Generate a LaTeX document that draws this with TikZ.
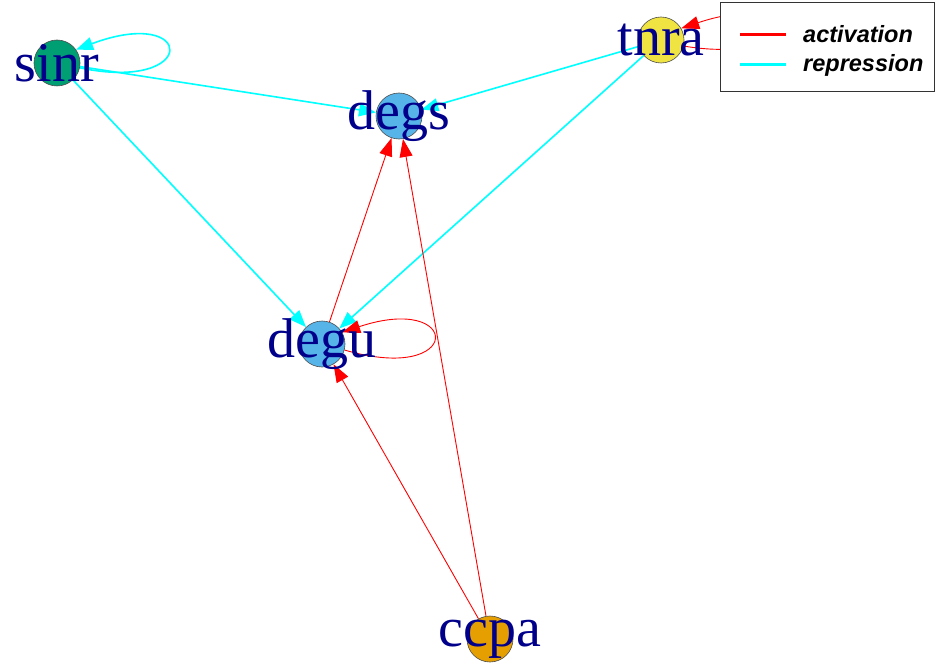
\documentclass[tikz,border=0pt]{standalone}
\usepackage{fontspec}
\setmainfont{Liberation Serif}
\newfontfamily\legendfont{Liberation Sans}
\usepackage{tikz}
\usetikzlibrary{arrows.meta}
\pgfdeclarelayer{background}
\pgfsetlayers{background,main}
\definecolor{sinrcol}{HTML}{009E73}
\definecolor{tnracol}{HTML}{F0E442}
\definecolor{degcol}{HTML}{56B4E9}
\definecolor{ccpacol}{HTML}{E69F00}
\definecolor{labcol}{HTML}{00008B}
\definecolor{actcol}{RGB}{255,0,0}
\definecolor{repcol}{RGB}{0,255,255}

\begin{document}
\begin{tikzpicture}[x=1pt,y=-1pt,
    vtx/.style={circle, draw=black!70, line width=0.6pt, minimum size=46pt, inner sep=0pt},
    lbl/.style={text=labcol, font=\fontsize{56}{56}\selectfont, inner sep=0pt},
    act/.style={draw=actcol, line width=0.9pt, -{Triangle[length=18pt,width=13pt]}},
    rep/.style={draw=repcol, line width=1.6pt, -{Triangle[length=17pt,width=13pt]}},
    legtxt/.style={font=\legendfont\fontsize{23.5}{23.5}\selectfont\bfseries\itshape, inner sep=0pt}]
                        \useasboundingbox (0,0) rectangle (935,666);

                        % Nodes
                        \node[vtx, fill=sinrcol, label={[lbl]center:sinr}] (sinr) at (57,63) {};
                        \node[vtx, fill=tnracol, label={[lbl]center:tnra}] (tnra) at (661,40) {};
                        \node[vtx, fill=degcol, label={[lbl]center:degs}] (degs) at (399,116) {};
                        \node[vtx, fill=degcol, label={[lbl]center:degu}] (degu) at (322,344) {};
                        \node[vtx, fill=ccpacol, label={[lbl]center:ccpa}] (ccpa) at (490,639) {};

                        % Edges
                        \begin{pgfonlayer}{background}
                        \draw[rep] (sinr.-12) .. controls +(120,25) and +(120,-45) .. (sinr.35);
                        \draw[rep] (sinr) -- (degs);
                        \draw[rep] (sinr) -- (degu);
                        \draw[rep] (tnra) -- (degs);
                        \draw[rep] (tnra) -- (degu);

                        \draw[act] (degu) -- (degs);
                        \draw[act] (ccpa) -- (degs);
                        \draw[act] (ccpa) -- (degu);
                        \draw[act] (degu.-15) .. controls +(120,35) and +(120,-40) .. (degu.30);
                        \draw[act] (tnra.-15) .. controls +(120,20) and +(120,-40) .. (tnra.30);
                        \end{pgfonlayer}

                        % Legend
                        \node[draw=black!80, fill=white, line width=0.8pt, anchor=north west,
                              minimum width=214pt, minimum height=89pt, inner sep=0pt] (legend) at (720,2) {};
                        \coordinate (act1) at (740,35);
                        \coordinate (act2) at (786,35);
                        \coordinate (rep1) at (740,65);
                        \coordinate (rep2) at (786,65);
                        \draw[actcol, line width=3pt] (act1) -- (act2);
                        \draw[repcol, line width=3pt] (rep1) -- (rep2);
                        \node[legtxt, anchor=base west] (acttxt) at (803,43) {activation};
                        \node[legtxt, anchor=base west] (reptxt) at (803,72) {repression};
                    \end{tikzpicture}
\end{document}
